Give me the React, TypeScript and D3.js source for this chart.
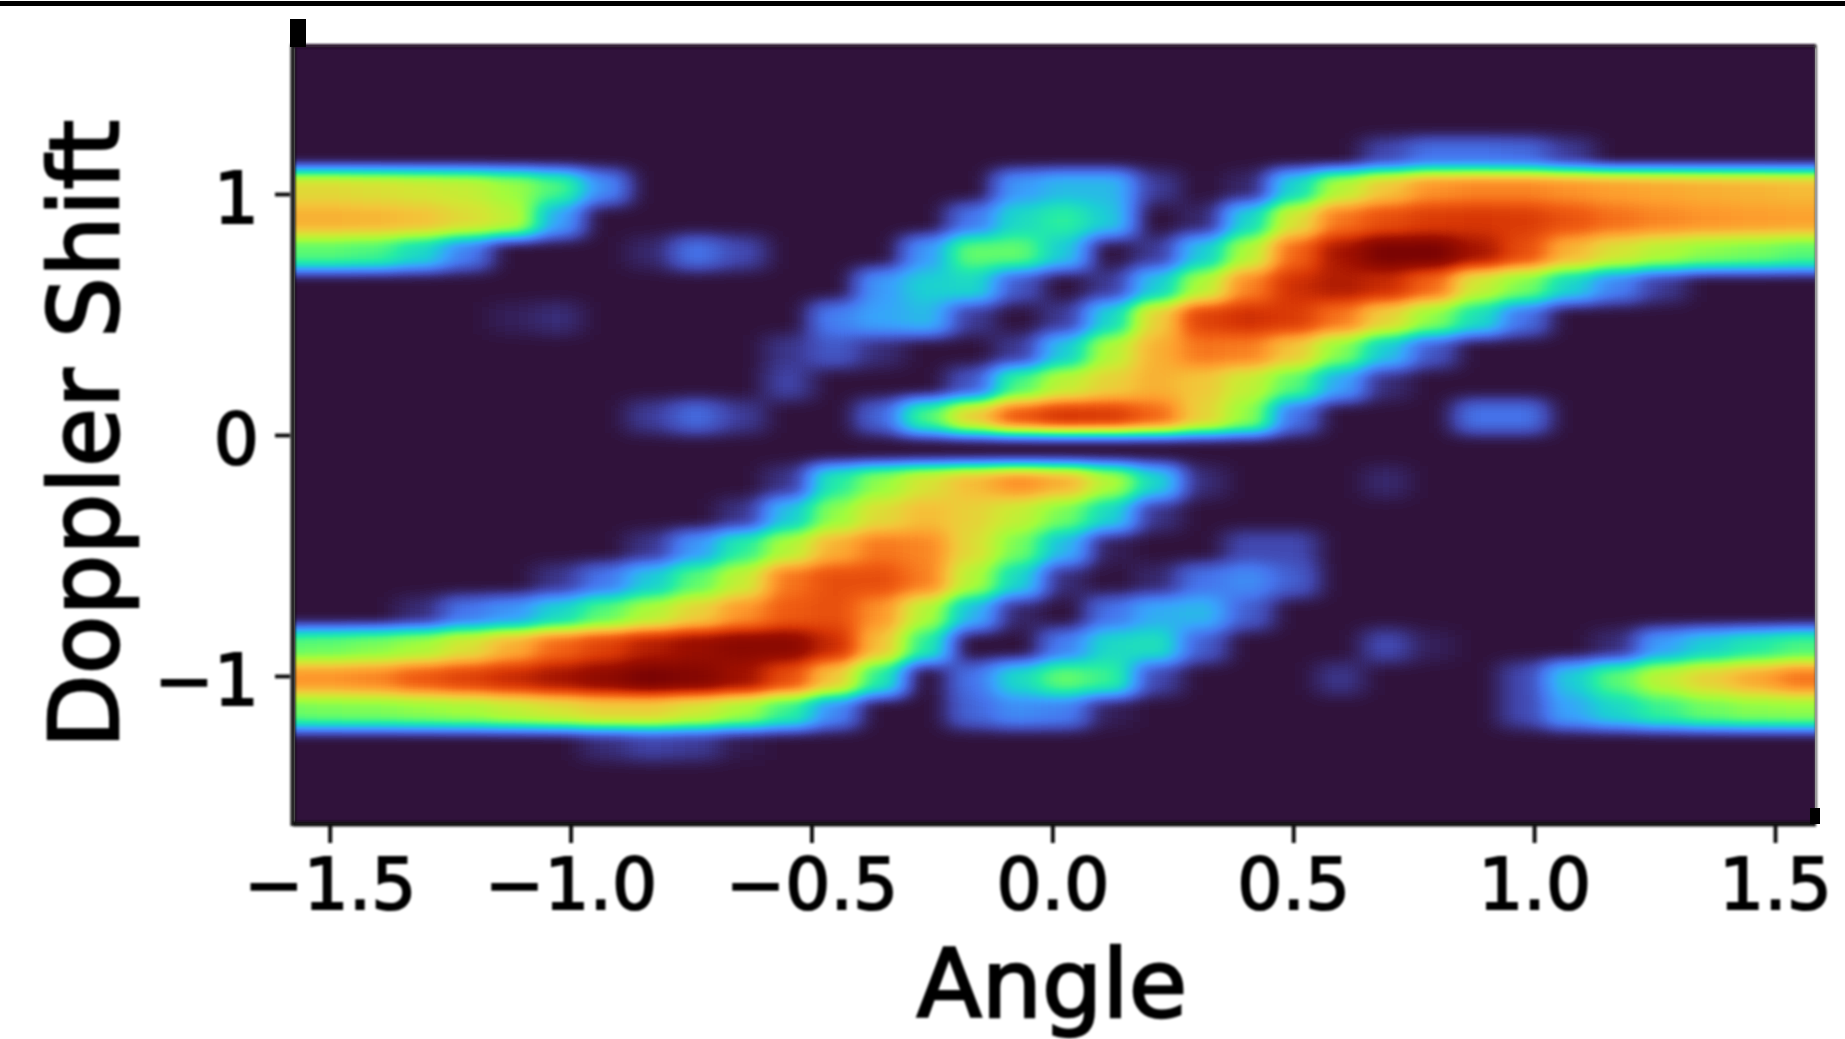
import React, { useEffect, useRef } from 'react';
import * as d3 from 'd3';

// Heatmap values (0-100) from top to bottom
const row00 = new Array(35).fill(0);
const row01 = new Array(35).fill(0);
const row02 = new Array(35).fill(0);
const row03 = [0,0,0,0,0, 0,0,0,0,0, 0,0,0,0,0, 0,0,0,0,0, 0,0,0,0,8, 14,14,13,6,0, 0,0,0,0,0];
const row04 = [60,60,59,57,55, 49,40,18,0,0, 0,0,0,0,0, 0,20,25,25,6, 0,3,30,52,64, 72,74,74,72,70, 69,68,67,66,66];
const row05 = [68,68,67,65,60, 54,22,0,0,0, 0,0,0,0,0, 15,31,37,28,0, 3,30,58,76,82, 85,86,85,81,77, 74,72,71,70,70];
const row06 = [42,42,40,31,16, 0,0,0,3,14, 8,0,0,0,20, 43,43,28,0,6, 28,52,78,92,100, 100,92,82,67,58, 52,47,45,42,42];
const row07 = [0,0,0,0,0, 0,0,0,0,0, 0,0,0,20,29, 31,10,0,6,28, 52,74,87,91,88, 78,56,46,30,17, 6,0,0,0,0];
const row08 = [0,0,0,0,0, 2,4,0,0,0, 0,0,16,22,25, 6,0,6,30,62, 84,87,85,76,62, 48,32,14,0,0, 0,0,0,0,0];
const row09 = [0,0,0,0,0, 0,0,0,0,0, 0,5,10,4,0, 0,6,28,52,68, 76,75,64,47,28, 10,0,0,0,0, 0,0,0,0,0];
const row10 = [0,0,0,0,0, 0,0,0,0,0, 0,7,0,0,0, 10,40,54,62,68, 64,55,42,22,4, 0,0,0,0,0, 0,0,0,0,0];
const row11 = [0,0,0,0,0, 0,0,0,6,13, 6,0,0,12,40, 62,80,86,85,78, 62,48,14,0,0, 0,14,14,0,0, 0,0,0,0,0];
const row12 = new Array(35).fill(0);
const row13 = [0,0,0,0,0, 0,0,0,0,0, 0,5,35,48,58, 66,73,68,52,30, 4,0,0,0,3, 0,0,0,0,0, 0,0,0,0,0];
const row14 = [0,0,0,0,0, 0,0,0,0,0, 5,27,48,60,66, 62,55,45,30,5, 0,0,0,0,0, 0,0,0,0,0, 0,0,0,0,0];
const row15 = [0,0,0,0,0, 0,0,0,5,20, 36,52,68,76,74, 60,45,25,2,0, 0,8,8,0,0, 0,0,0,0,0, 0,0,0,0,0];
const row16 = [0,0,0,0,0, 0,5,15,28,42, 55,76,82,82,75, 52,30,4,0,3, 14,18,11,0,0, 0,0,0,0,0, 0,0,0,0,0];
const row17 = [0,0,0,4,15, 20,30,42,52,62, 72,80,82,72,52, 25,3,0,14,23, 25,11,0,0,0, 0,0,0,0,0, 0,0,0,0,0];
const row18 = [42,43,46,50,58, 68,78,84,90,94, 97,97,88,65,36, 0,0,16,31,33, 11,0,0,0,8, 2,0,0,0,4, 21,29,35,40,40];
const row19 = [72,72,74,80,84, 88,92,96,100,98, 93,82,64,36,0, 14,31,43,38,8, 0,0,0,5,0, 0,0,8,28,42, 54,62,69,76,76];
const row20 = [44,45,46,48,50, 54,58,62,62,57, 50,38,18,0,0, 12,18,16,2,0, 0,0,0,0,0, 0,0,8,22,30, 38,44,47,48,48];
const row21 = [0,0,0,0,0, 0,0,4,7,6, 1,0,0,0,0, 0,0,0,0,0, 0,0,0,0,0, 0,0,0,0,0, 0,0,0,0,0];
const row22 = new Array(35).fill(0);
const row23 = new Array(35).fill(0);

const heatRows = [
  row00, row01, row02, row03, row04, row05, row06, row07, row08, row09, row10, row11,
  row12, row13, row14, row15, row16, row17, row18, row19, row20, row21, row22, row23,
];

const xTicks = [-1.5, -1, -0.5, 0, 0.5, 1, 1.5];
const yTicks = [-1, 0, 1];

// Turbo colormap stops
const turboStops = [
  '#30123b', '#4145ab', '#4675ed', '#39a2fc', '#1bcfd4', '#24eca6', '#61fc6c', '#a4fc3b',
  '#d1e834', '#f3c63a', '#fe9b2d', '#f36315', '#d93806', '#a01101', '#7a0403',
];

const width = 1845;
const height = 1039;
const plot = { left: 295, right: 1815, top: 47, bottom: 823 };

const App = () => {
  const svgRef = useRef<SVGSVGElement>(null);

  useEffect(() => {
    const svg = d3.select(svgRef.current);
    svg.selectAll('*').remove();

    const x = d3.scaleLinear().domain([-1.572, 1.583]).range([plot.left, plot.right]);
    const y = d3.scaleLinear().domain([-1.61, 1.61]).range([plot.bottom, plot.top]);

    // Cells of the grid run a bit past the axes, the clip cuts them off
    const col = d3.scaleBand<number>().domain(d3.range(heatRows[0].length)).range([259, 1869]);
    const row = d3.scaleBand<number>().domain(d3.range(heatRows.length)).range([40, 826]);
    const gray = d3.scaleLinear().domain([0, 100]).range([0, 255]);

    const turbo = d3.piecewise(d3.interpolateRgb, turboStops);
    const samples = d3.range(128).map((i) => d3.rgb(turbo(i / 127)));

    const defs = svg.append('defs');
    defs.append('clipPath').attr('id', 'plot-clip').append('rect')
      .attr('x', plot.left).attr('y', plot.top)
      .attr('width', plot.right - plot.left).attr('height', plot.bottom - plot.top);

    // Values are drawn as gray cells, blurred, and only then run through the colormap
    const heatFilter = defs.append('filter').attr('id', 'heat')
      .attr('filterUnits', 'userSpaceOnUse')
      .attr('x', 200).attr('y', 0).attr('width', 1700).attr('height', 880)
      .attr('color-interpolation-filters', 'sRGB');
    heatFilter.append('feGaussianBlur').attr('stdDeviation', '13 7.5');
    const transfer = heatFilter.append('feComponentTransfer');
    transfer.append('feFuncR').attr('type', 'table').attr('tableValues', samples.map((c) => c.r / 255).join(' '));
    transfer.append('feFuncG').attr('type', 'table').attr('tableValues', samples.map((c) => c.g / 255).join(' '));
    transfer.append('feFuncB').attr('type', 'table').attr('tableValues', samples.map((c) => c.b / 255).join(' '));

    defs.append('filter').attr('id', 'soft')
      .attr('x', '-5%').attr('y', '-5%').attr('width', '110%').attr('height', '110%')
      .append('feGaussianBlur').attr('stdDeviation', 1.1);

    svg.append('rect').attr('width', width).attr('height', height).attr('fill', '#ffffff');

    const clipped = svg.append('g').attr('clip-path', 'url(#plot-clip)');
    const heat = clipped.append('g').attr('filter', 'url(#heat)');
    heat.append('rect').attr('x', 200).attr('y', 0).attr('width', 1700).attr('height', 880).attr('fill', '#000000');
    heatRows.forEach((values, r) => {
      heat.append('g').selectAll('rect').data(values).join('rect')
        .attr('x', (_, c) => col(c))
        .attr('y', row(r))
        .attr('width', col.bandwidth() + 0.5)
        .attr('height', row.bandwidth() + 0.5)
        .attr('fill', (v) => {
          const g = Math.round(gray(v));
          return `rgb(${g},${g},${g})`;
        });
    });

    const chrome = svg.append('g').attr('filter', 'url(#soft)');

    // Spines
    chrome.append('line').attr('x1', plot.left - 2).attr('x2', plot.left - 2)
      .attr('y1', plot.top - 3).attr('y2', plot.bottom + 3)
      .attr('stroke', '#1a1a1a').attr('stroke-width', 5);
    chrome.append('line').attr('x1', plot.left - 2).attr('x2', plot.right + 1)
      .attr('y1', plot.bottom + 1).attr('y2', plot.bottom + 1)
      .attr('stroke', '#111111').attr('stroke-width', 5);
    chrome.append('line').attr('x1', plot.left).attr('x2', plot.right + 1)
      .attr('y1', plot.top - 1).attr('y2', plot.top - 1)
      .attr('stroke', '#220a28').attr('stroke-width', 4);
    chrome.append('line').attr('x1', plot.right + 1).attr('x2', plot.right + 1)
      .attr('y1', plot.top - 2).attr('y2', plot.bottom)
      .attr('stroke', '#555555').attr('stroke-width', 2);

    // Leftover bits along the frame
    svg.append('rect').attr('x', 0).attr('y', 1).attr('width', width).attr('height', 5).attr('fill', '#000000');
    svg.append('rect').attr('x', 290).attr('y', 19).attr('width', 16).attr('height', 28).attr('fill', '#000000');
    svg.append('rect').attr('x', 1810).attr('y', 808).attr('width', 10).attr('height', 16).attr('fill', '#000000');

    // Axes
    const xAxis = chrome.append('g')
      .attr('transform', `translate(0, ${plot.bottom})`)
      .call(d3.axisBottom(x).tickValues(xTicks).tickFormat(d3.format('.1f')).tickSize(20).tickPadding(16));
    const yAxis = chrome.append('g')
      .attr('transform', `translate(${plot.left - 5}, 0)`)
      .call(d3.axisLeft(y).tickValues(yTicks).tickFormat(d3.format('d')).tickSize(15).tickPadding(16));
    yAxis.selectAll('text').attr('dy', '0.4em');

    [xAxis, yAxis].forEach((axis) => {
      axis.select('.domain').remove();
      axis.selectAll('line').attr('stroke', '#111111').attr('stroke-width', 4);
      axis.selectAll('text')
        .attr('fill', '#000000')
        .attr('stroke', '#000000')
        .attr('stroke-width', 2)
        .style('font-family', '"DejaVu Sans"')
        .style('font-size', '71px');
    });

    chrome.append('text')
      .attr('x', 1052).attr('y', 1017)
      .attr('text-anchor', 'middle')
      .attr('stroke', '#000000').attr('stroke-width', 2.5)
      .style('font-family', '"DejaVu Sans"').style('font-size', '95px')
      .text('Angle');
    chrome.append('text')
      .attr('transform', 'translate(118, 434) rotate(-90)')
      .attr('text-anchor', 'middle')
      .attr('stroke', '#000000').attr('stroke-width', 2.5)
      .style('font-family', '"DejaVu Sans"').style('font-size', '96px')
      .text('Doppler Shift');
  }, []);

  return (
    <svg
      ref={svgRef}
      width={width}
      height={height}
      style={{ position: 'absolute', left: 0, top: 0, display: 'block' }}
    />
  );
};

export default App;
